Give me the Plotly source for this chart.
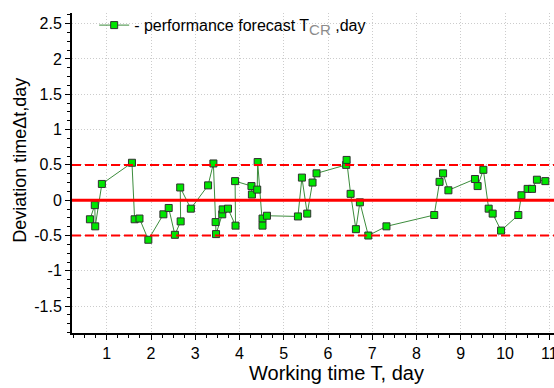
import plotly.graph_objects as go

# Working time T (days) and deviation of the forecast Δt (days)
work_time = [0.62, 0.73, 0.74, 0.89, 1.57, 1.63, 1.74, 1.94, 2.28, 2.40, 2.54, 2.67,
             2.66, 2.90, 3.29, 3.41, 3.46, 3.47, 3.61, 3.62, 3.74, 3.91, 3.90, 4.27,
             4.28, 4.40, 4.41, 4.52, 4.52, 4.62, 5.32, 5.41, 5.53, 5.65, 5.74, 6.41,
             6.42, 6.51, 6.63, 6.72, 6.91, 7.32, 8.40, 8.52, 8.60, 8.72, 9.32, 9.38,
             9.51, 9.63, 9.72, 9.91, 10.30, 10.37, 10.51, 10.61, 10.72, 10.91]
deviation = [-0.27, -0.07, -0.37, 0.23, 0.53, -0.27, -0.26, -0.56, -0.20, -0.11, -0.49, -0.30,
             0.18, -0.12, 0.21, 0.52, -0.31, -0.48, -0.20, -0.13, -0.12, -0.36, 0.27, 0.20,
             0.08, 0.15, 0.54, -0.26, -0.36, -0.22, -0.23, 0.32, -0.19, 0.25, 0.38, 0.50,
             0.57, 0.09, -0.41, -0.03, -0.50, -0.37, -0.21, 0.26, 0.38, 0.14, 0.30, 0.20,
             0.43, -0.12, -0.19, -0.43, -0.21, 0.07, 0.16, 0.16, 0.29, 0.27]

# Control limits
center_line = 0.0
tolerance = 0.5

x_ticks = [1, 2, 3, 4, 5, 6, 7, 8, 9, 10, 11]
y_ticks = [2.5, 2, 1.5, 1, 0.5, 0, -0.5, -1, -1.5]
y_tick_text = ["2.5", "2", "1.5", "1", "0.5", "0", "-0.5", "-1", "-1.5"]

x_title = "Working time T, day"
y_title = "Deviation timeΔt,day"

FONT = "Liberation Sans, Arial, sans-serif"

fig = go.Figure()

fig.add_hline(y=center_line, line=dict(color="#ff0000", width=3))
fig.add_hline(y=tolerance, line=dict(color="#ff0000", width=2, dash="9px,4px"))
fig.add_hline(y=-tolerance, line=dict(color="#ff0000", width=2, dash="9px,4px"))

fig.add_trace(go.Scatter(
    x=work_time, y=deviation, mode="lines+markers",
    name=("- performance forecast T<sub><span style='color:#8c8c8c;font-size:15px'>CR</span></sub>"
          " ,day"),
    line=dict(color="#3c8c3c", width=1),
    marker=dict(symbol="square", size=7, color="#00e600",
                line=dict(color="#303030", width=1)),
))

axis_common = dict(
    showline=True, linecolor="#000000", linewidth=2, mirror=False,
    showgrid=True, gridcolor="#cccccc", griddash="1px,2px", gridwidth=1,
    zeroline=False, ticks="outside", ticklen=5, tickwidth=1, tickcolor="#000000",
    tickfont=dict(family=FONT, size=16, color="#000000"),
    ticklabeloverflow="allow", automargin=False,
)

fig.update_xaxes(
    range=[0.215, 11.106], tickvals=x_ticks,
    minor=dict(dtick=0.25, tick0=0, ticks="outside", ticklen=3, tickcolor="#000000", showgrid=False),
    **axis_common,
)
fig.update_yaxes(
    range=[-1.88, 2.65], tickvals=y_ticks, ticktext=y_tick_text,
    minor=dict(dtick=0.125, tick0=0, ticks="outside", ticklen=3, tickcolor="#000000", showgrid=False),
    **axis_common,
)

# Axis titles, placed as paper-anchored text
fig.add_annotation(text=x_title, xref="paper", yref="paper", x=0.548, y=-0.125,
                   xanchor="center", yanchor="middle", showarrow=False,
                   font=dict(family=FONT, size=20, color="#000000"))
fig.add_annotation(text=y_title, xref="paper", yref="paper", x=-0.108, y=0.541,
                   xanchor="center", yanchor="middle", showarrow=False, textangle=-90,
                   font=dict(family=FONT, size=18, color="#000000"))

fig.update_layout(
    width=554, height=388,
    margin=dict(l=72, r=0, t=13, b=55),
    paper_bgcolor="#ffffff", plot_bgcolor="#ffffff",
    showlegend=True,
    legend=dict(x=0.046, y=1.015, xanchor="left", yanchor="top",
                bgcolor="rgba(0,0,0,0)", font=dict(family=FONT, size=16, color="#000000")),
)

fig.write_html("out.html")
